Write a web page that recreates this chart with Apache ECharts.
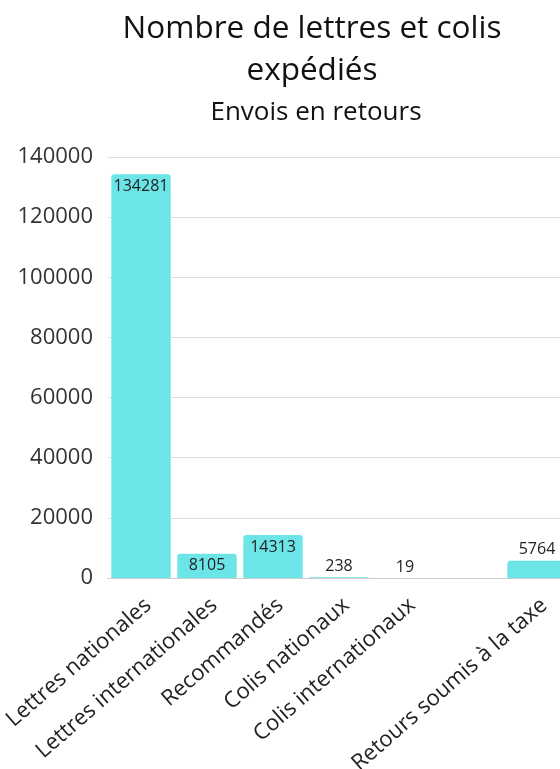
<!DOCTYPE html>
<html><head><meta charset="utf-8">
<script src="https://cdn.jsdelivr.net/npm/echarts@6/dist/echarts.min.js"></script>
<style>html,body{margin:0;padding:0;background:#fff}#c{width:560px;height:769px}</style>
</head><body><div id="c"></div>
<script>
var categories = ['Lettres nationales','Lettres internationales','Recommandés','Colis nationaux','Colis internationaux','','Retours soumis à la taxe'];
var values = [134281, 8105, 14313, 238, 19, null, 5764];
var yTicks = {min: 0, max: 140000, interval: 20000};
var titleText = 'Nombre de lettres et colis\nexpédiés';
var subtitleText = 'Envois en retours';

var FONT = '"Open Sans", "Noto Sans", sans-serif';
var data = values.map(function (v) {
  var big = v != null && v > 7000;
  return {
    value: v,
    label: big ? {position: 'insideTop', distance: 4} : {position: 'top', distance: 3}
  };
});
var chart = echarts.init(document.getElementById('c'), null, {renderer: 'canvas'});
chart.setOption({
  animation: false,
  title: [{
    text: titleText, left: 307, top: 3, textAlign: 'center',
    textStyle: {fontFamily: FONT, fontSize: 31.5, fontWeight: 'normal', color: '#111', lineHeight: 42}
  }, {
    text: subtitleText, left: 311, top: 93, textAlign: 'center',
    textStyle: {fontFamily: FONT, fontSize: 26, fontWeight: 'normal', color: '#111', lineHeight: 30}
  }],
  grid: {left: 108, width: 462, top: 157, bottom: 191, containLabel: false, outerBoundsMode: 'none'},
  xAxis: {
    type: 'category', data: categories,
    axisLine: {lineStyle: {color: '#cccccc', width: 1}},
    axisTick: {show: false},
    axisLabel: {rotate: 41, interval: 0, fontFamily: FONT, fontSize: 22, color: '#222', margin: 16,
      verticalAlign: 'top', align: 'right'}
  },
  yAxis: {
    type: 'value', min: yTicks.min, max: yTicks.max, interval: yTicks.interval,
    axisLine: {show: false}, axisTick: {show: false},
    splitLine: {lineStyle: {color: '#dddddd', width: 1}},
    axisLabel: {fontFamily: FONT, fontSize: 22, color: '#333', margin: 15,
      formatter: function (v) { return String(v); }}
  },
  series: [{
    type: 'bar', data: data, barCategoryGap: '10%',
    itemStyle: {color: '#6ce5e8', borderRadius: [3, 3, 0, 0]},
    label: {show: true, fontFamily: FONT, fontSize: 16, color: '#222'}
  }]
});
</script></body></html>
